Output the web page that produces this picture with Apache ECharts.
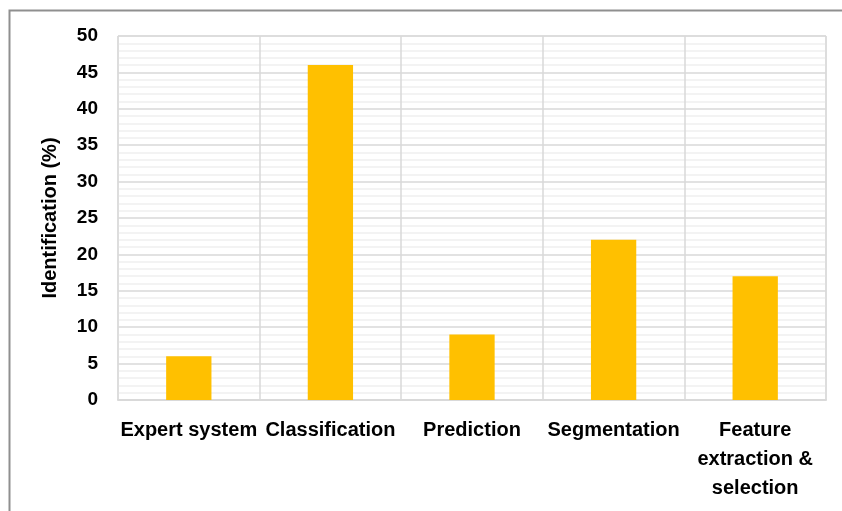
<!DOCTYPE html>
<html>
<head>
<meta charset="utf-8">
<script src="https://cdn.jsdelivr.net/npm/echarts@6/dist/echarts.min.js"></script>
<style>
  html, body { margin: 0; padding: 0; background: #fff; }
  #chart { width: 842px; height: 511px; }
</style>
</head>
<body>
<div id="chart"></div>
<script>
// Share of studies per task type
const categories = ['Expert system', 'Classification', 'Prediction', 'Segmentation', 'Feature\nextraction &\nselection'];
const identification = [6, 46, 9, 22, 17];

const chart = echarts.init(document.getElementById('chart'), null, { renderer: 'canvas' });
const fontFamily = '"Liberation Sans", Arial, sans-serif';

chart.setOption({
  animation: false,
  backgroundColor: '#ffffff',
  graphic: [{
    type: 'rect',
    shape: { x: 9.5, y: 10.5, width: 900, height: 600 },
    style: { fill: 'none', stroke: '#8f8f8f', lineWidth: 2 },
    silent: true
  }],
  grid: { left: 118, right: 16, top: 36, bottom: 111, containLabel: false,
          show: true, borderColor: '#d9d9d9', borderWidth: 1 },
  xAxis: {
    type: 'category',
    data: categories,
    boundaryGap: true,
    axisLine: { show: true, lineStyle: { color: '#d9d9d9', width: 2 } },
    axisTick: { show: false },
    splitLine: { show: true, lineStyle: { color: '#d9d9d9', width: 1.5 } },
    axisLabel: {
      color: '#000', fontFamily, fontWeight: 'bold', fontSize: 20,
      margin: 16, lineHeight: 29, interval: 0
    }
  },
  yAxis: {
    type: 'value',
    min: 0, max: 50, interval: 5,
    name: 'Identification (%)',
    nameLocation: 'middle',
    nameGap: 58,
    nameTextStyle: { color: '#000', fontFamily, fontWeight: 'bold', fontSize: 20 },
    axisLine: { show: false },
    axisTick: { show: false },
    axisLabel: { color: '#000', fontFamily, fontWeight: 'bold', fontSize: 19, margin: 20 },
    splitLine: { show: true, lineStyle: { color: '#d9d9d9', width: 1.5 } },
    minorTick: { show: false, splitNumber: 5 },
    minorSplitLine: { show: true, lineStyle: { color: '#f0f0f0', width: 1.5 } }
  },
  series: [{
    type: 'bar',
    data: identification,
    barWidth: '32%',
    itemStyle: { color: '#ffc000' }
  }]
});
</script>
</body>
</html>
